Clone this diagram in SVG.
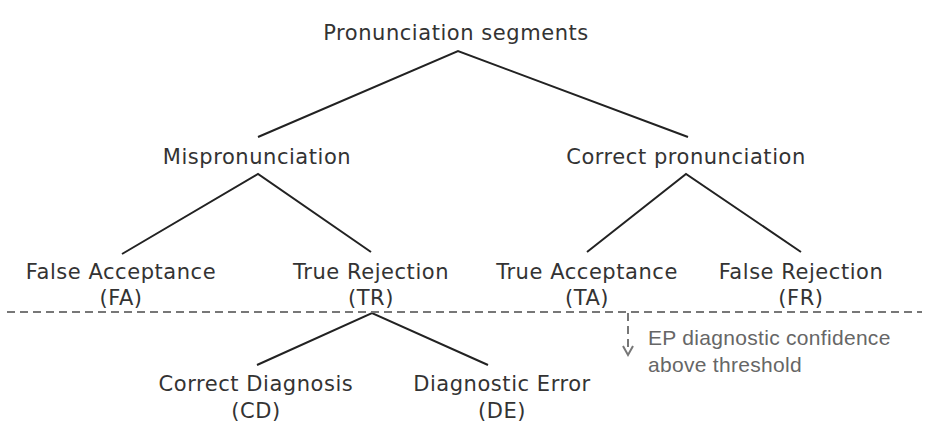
<svg xmlns="http://www.w3.org/2000/svg" width="928" height="438" viewBox="0 0 928 438">
<style>
.t{font-family:"DejaVu Sans",sans-serif;font-size:21px;letter-spacing:0.55px;fill:#333;text-anchor:middle}
.a{font-family:"Liberation Sans",Arial,sans-serif;font-size:21px;letter-spacing:0.3px;fill:#666}
.e{stroke:#222;stroke-width:2;fill:none}
.d{stroke:#777;stroke-width:2;fill:none;stroke-dasharray:8 5}
</style>
<rect width="928" height="438" fill="#fff"/>
<g id="connectors">
<path class="e" d="M258 137 L458 51 L688 137"/>
<path class="e" d="M122 254 L258 174 L371 252"/>
<path class="e" d="M587 252 L686 174 L801 252"/>
<path class="e" d="M257 365 L372 313 L488 365"/>
</g>
<g id="threshold">
<line class="d" x1="7" y1="312" x2="922" y2="312"/>
<line class="d" x1="628" y1="313" x2="628" y2="352"/>
<path d="M623 346 L628 355 L633 346" stroke="#777" stroke-width="2" fill="none"/>
<text class="a" x="648" y="345">EP diagnostic confidence</text>
<text class="a" x="648" y="372">above threshold</text>
</g>
<g id="root"><text class="t" x="456" y="40">Pronunciation segments</text></g>
<g id="mis"><text class="t" x="257" y="164">Mispronunciation</text></g>
<g id="cor"><text class="t" x="686" y="164">Correct pronunciation</text></g>
<g id="fa"><text class="t" x="121" y="279">False Acceptance</text><text class="t" x="121" y="305">(FA)</text></g>
<g id="tr"><text class="t" x="371" y="279">True Rejection</text><text class="t" x="371" y="305">(TR)</text></g>
<g id="ta"><text class="t" x="587" y="279">True Acceptance</text><text class="t" x="587" y="305">(TA)</text></g>
<g id="fr"><text class="t" x="801" y="279">False Rejection</text><text class="t" x="801" y="305">(FR)</text></g>
<g id="cd"><text class="t" x="256" y="391">Correct Diagnosis</text><text class="t" x="256" y="418">(CD)</text></g>
<g id="de"><text class="t" x="502" y="391">Diagnostic Error</text><text class="t" x="502" y="418">(DE)</text></g>
</svg>
